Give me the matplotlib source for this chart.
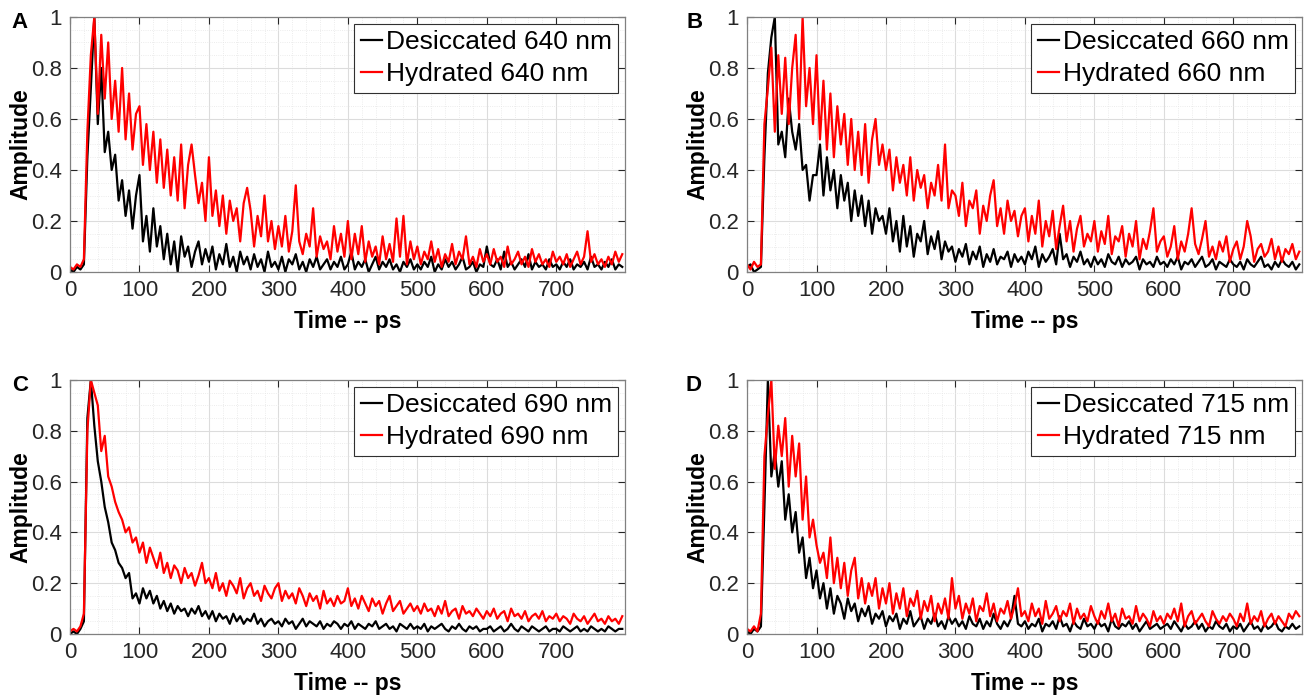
import numpy as np
import matplotlib.pyplot as plt
from matplotlib.ticker import MultipleLocator

plt.rcParams['font.family'] = ['Liberation Sans', 'DejaVu Sans']

# sample times (ps), one reading every 5 ps
time_ps = np.arange(0, 800, 5)

# amplitudes in percent of peak (20 samples = 100 ps per row)
desic_640 = [
    1, 0, 2, 1, 3, 45, 72, 100, 58, 80, 47, 55, 40, 46, 28, 36, 22, 32, 17, 30,
    38, 12, 22, 8, 25, 10, 18, 5, 15, 3, 12, 0, 14, 6, 10, 2, 8, 12, 3, 9,
    4, 10, 1, 7, 3, 11, 2, 6, 0, 8, 3, 6, 1, 7, 2, 5, 0, 8, 2, 4,
    1, 6, 0, 5, 3, 7, 1, 4, 0, 5, 2, 6, 1, 3, 5, 1, 4, 2, 6, 1,
    3, 8, 1, 4, 2, 5, 0, 3, 6, 1, 4, 2, 5, 1, 3, 0, 4, 2, 5, 1,
    3, 1, 4, 2, 6, 0, 3, 1, 5, 2, 4, 1, 3, 6, 1, 2, 4, 0, 3, 2,
    10, 3, 2, 5, 1, 8, 2, 4, 1, 3, 5, 2, 7, 1, 4, 2, 3, 1, 5, 2,
    3, 1, 4, 2, 5, 1, 3, 2, 4, 1, 6, 2, 3, 1, 4, 2, 5, 1, 3, 2]
hydr_640 = [
    2, 1, 3, 2, 5, 55, 85, 100, 62, 93, 68, 90, 60, 75, 55, 80, 52, 70, 48, 62,
    65, 42, 58, 40, 55, 35, 52, 33, 48, 30, 45, 28, 50, 25, 42, 50, 38, 27, 35, 20,
    45, 22, 32, 18, 30, 15, 28, 20, 25, 12, 27, 33, 24, 10, 22, 14, 30, 12, 20, 9,
    18, 10, 22, 8, 16, 34, 12, 7, 15, 10, 25, 6, 14, 9, 12, 5, 18, 8, 15, 6,
    20, 5, 15, 7, 18, 4, 12, 6, 10, 3, 14, 5, 11, 4, 21, 6, 22, 3, 12, 5,
    10, 3, 8, 5, 12, 4, 9, 2, 7, 4, 11, 3, 8, 5, 14, 3, 6, 2, 9, 4,
    7, 3, 9, 4, 6, 2, 10, 3, 5, 8, 3, 6, 2, 9, 4, 7, 3, 5, 2, 8,
    4, 6, 3, 7, 2, 5, 8, 3, 6, 16, 4, 7, 3, 5, 2, 6, 3, 8, 4, 7]

desic_660 = [
    2, 3, 0, 1, 2, 45, 78, 92, 100, 50, 55, 45, 68, 55, 48, 58, 40, 42, 28, 38,
    38, 50, 30, 45, 32, 40, 25, 38, 28, 35, 20, 32, 22, 30, 18, 28, 15, 25, 20, 22,
    15, 25, 12, 20, 8, 22, 10, 18, 6, 15, 12, 20, 7, 14, 9, 16, 5, 12, 8, 10,
    4, 9, 6, 11, 3, 8, 5, 10, 2, 7, 4, 9, 3, 6, 5, 8, 2, 7, 4, 6,
    3, 8, 5, 10, 2, 7, 4, 6, 9, 3, 15, 5, 7, 2, 6, 4, 8, 3, 5, 2,
    6, 3, 5, 2, 7, 4, 3, 6, 2, 5, 3, 4, 6, 1, 5, 3, 4, 2, 6, 3,
    4, 2, 5, 3, 6, 1, 4, 3, 5, 2, 4, 6, 2, 3, 5, 1, 4, 3, 2, 5,
    3, 2, 4, 1, 5, 3, 2, 4, 6, 2, 3, 1, 4, 2, 5, 3, 2, 4, 1, 3]
hydr_660 = [
    3, 1, 4, 2, 3, 58, 72, 88, 55, 85, 62, 84, 58, 80, 93, 60, 100, 65, 80, 58,
    85, 52, 75, 48, 70, 45, 65, 50, 62, 42, 60, 40, 55, 38, 58, 35, 52, 60, 42, 50,
    40, 48, 32, 45, 35, 42, 30, 45, 28, 40, 33, 38, 25, 35, 30, 42, 28, 50, 25, 32,
    30, 22, 35, 18, 28, 25, 32, 15, 26, 20, 30, 36, 18, 25, 15, 28, 20, 24, 14, 22,
    25, 12, 22, 15, 28, 10, 20, 14, 24, 9, 18, 26, 12, 20, 8, 17, 22, 10, 15, 12,
    20, 8, 16, 11, 22, 7, 14, 12, 18, 6, 15, 10, 20, 5, 13, 9, 16, 25, 8, 12,
    14, 6, 10, 18, 5, 12, 8, 15, 25, 11, 7, 13, 20, 6, 10, 5, 12, 8, 14, 4,
    9, 12, 5, 10, 20, 14, 4, 9, 11, 6, 8, 13, 5, 10, 4, 9, 7, 11, 5, 8]

desic_690 = [
    0, 1, 0, 2, 5, 85, 100, 82, 68, 60, 50, 44, 36, 33, 28, 26, 22, 24, 14, 16,
    12, 18, 14, 17, 12, 15, 10, 13, 9, 12, 8, 11, 9, 10, 7, 10, 8, 11, 7, 9,
    6, 9, 5, 8, 6, 7, 4, 8, 5, 7, 4, 6, 5, 8, 4, 6, 3, 5, 6, 4,
    5, 3, 6, 4, 5, 2, 4, 6, 3, 5, 4, 3, 5, 2, 4, 3, 5, 4, 2, 4,
    3, 5, 2, 4, 3, 2, 4, 3, 5, 2, 3, 4, 2, 3, 1, 4, 3, 2, 4, 2,
    3, 2, 4, 1, 3, 2, 3, 4, 2, 1, 3, 2, 4, 2, 1, 3, 2, 3, 1, 2,
    2, 3, 1, 2, 3, 1, 2, 4, 2, 1, 3, 2, 1, 3, 2, 1, 2, 3, 1, 2,
    2, 1, 3, 2, 1, 2, 3, 1, 2, 1, 3, 2, 1, 2, 1, 3, 2, 1, 2, 2]
hydr_690 = [
    1, 2, 1, 3, 8, 80, 100, 95, 90, 72, 78, 62, 58, 52, 48, 45, 40, 42, 36, 38,
    32, 36, 28, 34, 30, 26, 32, 24, 28, 22, 27, 25, 20, 26, 22, 24, 19, 23, 28, 20,
    22, 18, 24, 17, 20, 15, 21, 19, 16, 22, 14, 18, 20, 15, 17, 13, 19, 16, 14, 18,
    20, 13, 17, 14, 16, 12, 18, 15, 11, 16, 13, 15, 10, 17, 12, 14, 11, 15, 12, 13,
    18, 11, 14, 10, 15, 12, 9, 14, 11, 13, 8, 12, 15, 9, 11, 13, 8, 10, 12, 9,
    11, 8, 12, 9, 10, 7, 11, 8, 13, 7, 9, 10, 6, 11, 8, 9, 7, 10, 8, 6,
    9, 7, 10, 6, 8, 9, 5, 10, 7, 8, 6, 9, 5, 7, 8, 6, 9, 5, 7, 6,
    8, 5, 7, 6, 4, 8, 6, 5, 7, 4, 6, 8, 5, 6, 4, 7, 5, 6, 4, 7]

desic_715 = [
    1, 0, 2, 1, 3, 50, 100, 62, 72, 58, 68, 45, 55, 40, 48, 32, 38, 22, 30, 18,
    25, 14, 20, 10, 18, 8, 15, 12, 6, 14, 9, 12, 5, 10, 7, 11, 4, 8, 6, 9,
    3, 7, 5, 8, 2, 6, 4, 9, 3, 5, 7, 2, 6, 4, 8, 3, 5, 2, 7, 4,
    6, 3, 5, 2, 7, 4, 3, 6, 2, 5, 3, 8, 4, 2, 5, 3, 6, 15, 4, 3,
    5, 2, 4, 3, 6, 1, 4, 3, 5, 2, 7, 3, 4, 1, 5, 3, 2, 6, 3, 4,
    2, 5, 3, 4, 1, 6, 3, 2, 4, 3, 5, 2, 4, 1, 3, 5, 2, 3, 4, 2,
    3, 4, 2, 5, 3, 1, 4, 2, 3, 5, 2, 4, 1, 3, 2, 5, 3, 2, 4, 1,
    3, 2, 4, 1, 3, 5, 2, 3, 1, 4, 2, 3, 5, 2, 1, 3, 2, 4, 2, 3]
hydr_715 = [
    2, 1, 3, 1, 8, 70, 86, 100, 65, 82, 70, 85, 58, 78, 62, 75, 45, 62, 38, 45,
    35, 28, 32, 22, 38, 20, 30, 18, 28, 15, 25, 30, 14, 22, 12, 20, 15, 22, 10, 18,
    12, 20, 8, 16, 10, 18, 7, 14, 11, 17, 6, 13, 9, 15, 5, 12, 8, 14, 6, 22,
    10, 15, 6, 12, 8, 14, 5, 11, 9, 16, 7, 12, 5, 10, 8, 13, 6, 11, 18, 7,
    9, 5, 12, 7, 10, 4, 13, 6, 8, 11, 5, 9, 7, 12, 4, 10, 6, 8, 5, 11,
    7, 4, 9, 6, 12, 5, 8, 3, 10, 6, 7, 4, 11, 5, 8, 6, 3, 9, 5, 7,
    4, 8, 6, 10, 5, 12, 3, 7, 9, 4, 6, 8, 5, 3, 9, 6, 4, 7, 5, 8,
    6, 3, 8, 5, 12, 4, 7, 5, 9, 3, 6, 8, 4, 7, 5, 3, 8, 6, 9, 7]

panels = ['A', 'B', 'C', 'D']
wavelengths = ['640', '660', '690', '715']
desiccated = [desic_640, desic_660, desic_690, desic_715]
hydrated = [hydr_640, hydr_660, hydr_690, hydr_715]

# axes boxes in figure fractions: left, bottom, width, height
boxes = [[0.0536, 0.6086, 0.425, 0.367],
         [0.572, 0.6086, 0.425, 0.367],
         [0.0536, 0.0878, 0.425, 0.3655],
         [0.572, 0.0878, 0.425, 0.3655]]
letter_pos = [(0.0153, 0.968), (0.532, 0.968), (0.0153, 0.446), (0.531, 0.446)]

fig = plt.figure(figsize=(13.06, 6.95), dpi=100)
axis_gray = '#262626'

for i in range(4):
    ax = fig.add_axes(boxes[i])
    ax.plot(time_ps, np.array(desiccated[i]) / 100, color='black', linewidth=1.6,
            label='Desiccated ' + wavelengths[i] + ' nm')
    ax.plot(time_ps, np.array(hydrated[i]) / 100, color='red', linewidth=1.6,
            label='Hydrated ' + wavelengths[i] + ' nm')

    ax.set_xlim(0, 799)
    ax.set_ylim(0, 1)
    ax.xaxis.set_major_locator(MultipleLocator(100))
    ax.xaxis.set_minor_locator(MultipleLocator(20))
    ax.yaxis.set_major_locator(MultipleLocator(0.2))
    ax.yaxis.set_minor_locator(MultipleLocator(0.05))
    ax.set_yticks([0, 0.2, 0.4, 0.6, 0.8, 1])
    ax.set_yticklabels(['0', '0.2', '0.4', '0.6', '0.8', '1'])

    ax.grid(which='major', color='#dcdcdc', linewidth=0.8)
    ax.grid(which='minor', color='#e6e6e6', linewidth=0.6, linestyle=':')
    ax.set_axisbelow(True)

    ax.tick_params(which='both', direction='in', top=True, right=True,
                   colors=axis_gray, labelsize=16)
    ax.tick_params(which='major', length=5, width=0.8, pad=6)
    ax.tick_params(which='minor', length=0)
    for sp in ax.spines.values():
        sp.set_color('#808080')
        sp.set_linewidth(0.9)

    ax.set_xlabel('Time -- ps', fontsize=16.5, fontweight='bold', labelpad=6)
    ax.set_ylabel('Amplitude', fontsize=16.5, fontweight='bold')
    ax.yaxis.set_label_coords(-0.068, 0.5)

    leg = ax.legend(loc='upper right', fontsize=19, fancybox=False, framealpha=1,
                    edgecolor='#303030', handlelength=0.8, handletextpad=0.15,
                    borderpad=0.25, labelspacing=0.3, borderaxespad=0.25)
    leg.get_frame().set_linewidth(0.8)

    fig.text(letter_pos[i][0], letter_pos[i][1], panels[i],
             fontsize=16, fontweight='bold', ha='center', va='center')

plt.savefig('out.png', dpi=100)
